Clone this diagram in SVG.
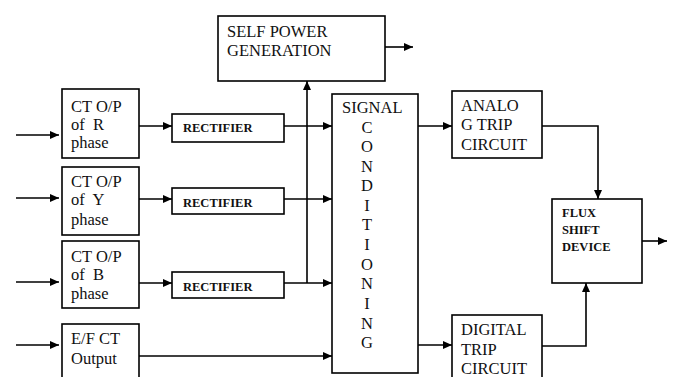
<svg xmlns="http://www.w3.org/2000/svg" width="673" height="377" viewBox="0 0 673 377">
<style>
.box{fill:#fff;stroke:#000;stroke-width:1.6}
.t{font-family:'Liberation Serif','Times New Roman','DejaVu Serif',serif;font-size:16.5px;fill:#111}
.s{font-family:'Liberation Serif','Times New Roman','DejaVu Serif',serif;font-size:12.5px;font-weight:bold;fill:#111}
.c{stroke:#000;stroke-width:1.6;fill:none;marker-end:url(#ah)}
</style>
<defs>
<marker id="ah" markerUnits="userSpaceOnUse" markerWidth="10" markerHeight="9" refX="9" refY="4" orient="auto">
<path d="M0,0 L9,4 L0,8 z" fill="#000"/>
</marker>
</defs>
<rect width="673" height="377" fill="#fff"/>
<g id="connectors">
<line class="c" x1="16" y1="135" x2="59" y2="135"/>
<line class="c" x1="16" y1="198" x2="59" y2="198"/>
<line class="c" x1="16" y1="282" x2="59" y2="282"/>
<line class="c" x1="16" y1="345" x2="59" y2="345"/>
<line class="c" x1="139" y1="126" x2="172" y2="126"/>
<line class="c" x1="139" y1="199" x2="172" y2="199"/>
<line class="c" x1="139" y1="283" x2="172" y2="283"/>
<line class="c" x1="284" y1="126" x2="332" y2="126"/>
<line class="c" x1="284" y1="199" x2="332" y2="199"/>
<line class="c" x1="284" y1="283" x2="332" y2="283"/>
<line class="c" x1="139" y1="356" x2="332" y2="356"/>
<line class="c" x1="307" y1="283" x2="307" y2="81"/>
<line class="c" x1="385" y1="47" x2="413" y2="47"/>
<line class="c" x1="418" y1="126" x2="452" y2="126"/>
<line class="c" x1="418" y1="345" x2="452" y2="345"/>
<path class="c" d="M542,126 H598 V199"/>
<path class="c" d="M542,346 H586 V283"/>
<line class="c" x1="642" y1="241" x2="667" y2="241"/>
</g>
<g id="selfpower">
<rect class="box" x="218" y="16" width="167" height="65"/>
<text class="t" font-family="Liberation Serif" x="227" y="37">SELF POWER</text>
<text class="t" font-family="Liberation Serif" x="227" y="56">GENERATION</text>
</g>
<g id="ctR">
<rect class="box" x="62" y="89" width="77" height="69"/>
<text class="t" x="71" y="112">CT O/P</text>
<text class="t" x="71" y="130" xml:space="preserve">of  R</text>
<text class="t" x="71" y="148">phase</text>
</g>
<g id="ctY">
<rect class="box" x="62" y="167" width="77" height="68"/>
<text class="t" x="71" y="187">CT O/P</text>
<text class="t" x="71" y="205" xml:space="preserve">of  Y</text>
<text class="t" x="71" y="225">phase</text>
</g>
<g id="ctB">
<rect class="box" x="62" y="241" width="77" height="67"/>
<text class="t" x="71" y="262">CT O/P</text>
<text class="t" x="71" y="280" xml:space="preserve">of  B</text>
<text class="t" x="71" y="299">phase</text>
</g>
<g id="efct">
<rect class="box" x="62" y="324" width="77" height="56"/>
<text class="t" x="71" y="344">E/F CT</text>
<text class="t" x="71" y="364">Output</text>
</g>
<g id="rect1">
<rect class="box" x="172" y="114" width="112" height="28"/>
<text class="s" x="183" y="132">RECTIFIER</text>
</g>
<g id="rect2">
<rect class="box" x="172" y="188" width="112" height="26"/>
<text class="s" x="183" y="207">RECTIFIER</text>
</g>
<g id="rect3">
<rect class="box" x="172" y="272" width="112" height="26"/>
<text class="s" x="183" y="291">RECTIFIER</text>
</g>
<g id="signal">
<rect class="box" x="332" y="94" width="86" height="279"/>
<text class="t" x="342" y="113">SIGNAL</text>
<g text-anchor="middle">
<text class="t" x="367" y="133">C</text>
<text class="t" x="367" y="152">O</text>
<text class="t" x="367" y="172">N</text>
<text class="t" x="367" y="191">D</text>
<text class="t" x="367" y="211">I</text>
<text class="t" x="367" y="230">T</text>
<text class="t" x="367" y="250">I</text>
<text class="t" x="367" y="270">O</text>
<text class="t" x="367" y="289">N</text>
<text class="t" x="367" y="309">I</text>
<text class="t" x="367" y="329">N</text>
<text class="t" x="367" y="348">G</text>
</g>
</g>
<g id="analog">
<rect class="box" x="452" y="91" width="90" height="67"/>
<text class="t" x="461" y="111">ANALO</text>
<text class="t" x="461" y="130">G TRIP</text>
<text class="t" x="461" y="150">CIRCUIT</text>
</g>
<g id="digital">
<rect class="box" x="452" y="315" width="90" height="66"/>
<text class="t" x="461" y="335">DIGITAL</text>
<text class="t" x="461" y="355">TRIP</text>
<text class="t" x="461" y="374">CIRCUIT</text>
</g>
<g id="flux">
<rect class="box" x="552" y="199" width="90" height="84"/>
<text class="s" x="562" y="217">FLUX</text>
<text class="s" x="562" y="234">SHIFT</text>
<text class="s" x="562" y="251">DEVICE</text>
</g>
</svg>
